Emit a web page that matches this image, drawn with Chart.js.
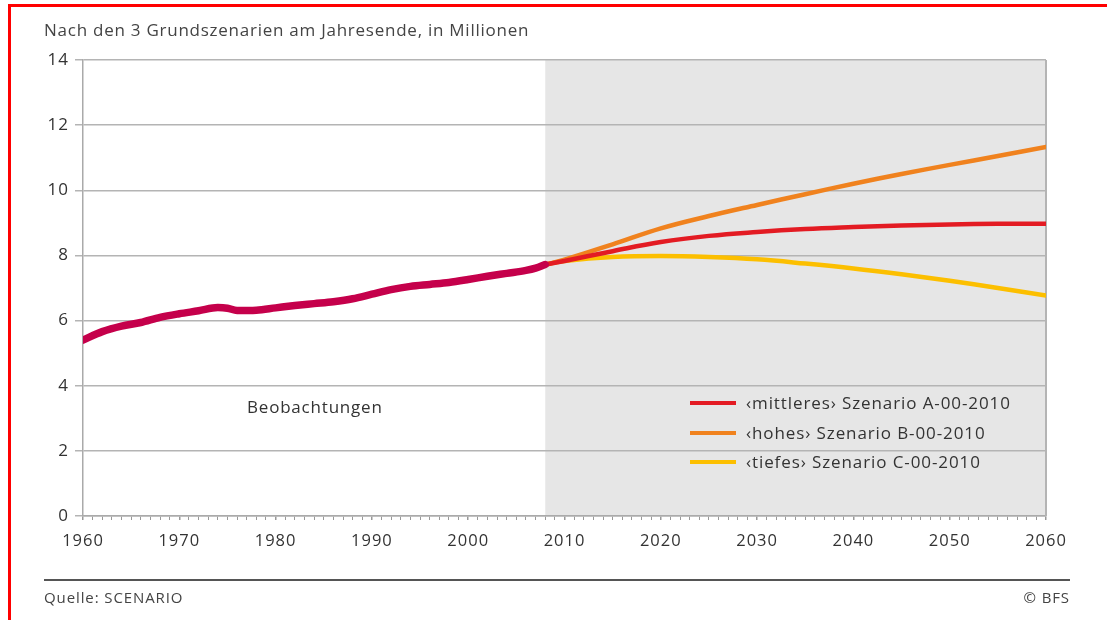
<!DOCTYPE html>
<html>
<head>
<meta charset="utf-8">
<script src="https://cdn.jsdelivr.net/npm/chart.js@4.4.1/dist/chart.umd.min.js"></script>
<style>
  body { margin: 0; background: #fff; font-family: "Open Sans", sans-serif; color: #444; }
  #wrap { position: relative; width: 1107px; height: 621px; overflow: hidden; }
  #frameTop { position: absolute; left: 8px; top: 4px; width: 1099px; height: 3px; background: #f00; }
  #frameLeft { position: absolute; left: 8px; top: 4px; width: 3px; height: 616px; background: #f00; }
  canvas { position: absolute; left: 0; top: 0; }
  .txt { position: absolute; white-space: nowrap; }
  #title { left: 44px; top: 18px; font-size: 17px; letter-spacing: 0.75px; color: #444; }
  #obs { left: 247px; top: 395px; font-size: 17px; letter-spacing: 0.8px; color: #333; }
  #rule { position: absolute; left: 44px; top: 579px; width: 1026px; height: 2px; background: #555; }
  #src { left: 44px; top: 587px; font-size: 15px; letter-spacing: 0.9px; color: #444; }
  #copy { right: 37px; top: 587px; font-size: 15px; letter-spacing: 0.9px; color: #444; }
  .leg { position: absolute; left: 690px; font-size: 17px; letter-spacing: 0.9px; color: #333; white-space: nowrap; }
  .leg span { display: inline-block; width: 46px; height: 4px; margin-right: 10px; vertical-align: middle; position: relative; top: -1px; }
</style>
</head>
<body>
<div id="wrap">
  <canvas id="chart" width="1107" height="621"></canvas>
  <div id="frameTop"></div>
  <div id="frameLeft"></div>
  <div id="title" class="txt">Nach den 3 Grundszenarien am Jahresende, in Millionen</div>
  <div id="obs" class="txt">Beobachtungen</div>
  <div id="legend"></div>
  <div id="rule"></div>
  <div id="src" class="txt">Quelle: SCENARIO</div>
  <div id="copy" class="txt">© BFS</div>
</div>
<script>
// observed population, millions
const histYears = [1960, 1962, 1964, 1966, 1968, 1970, 1972, 1974, 1975, 1976, 1978, 1980, 1982, 1984, 1986,
  1988, 1990, 1992, 1994, 1996, 1998, 2000, 2002, 2004, 2006, 2007, 2008];
const histValues = [5.40, 5.66, 5.83, 5.94, 6.10, 6.21, 6.30, 6.40, 6.38, 6.31, 6.32, 6.39, 6.46, 6.52, 6.58,
  6.67, 6.81, 6.95, 7.05, 7.11, 7.17, 7.26, 7.36, 7.45, 7.54, 7.61, 7.72];

// scenarios
const scenYears = [2008, 2010, 2015, 2020, 2025, 2030, 2035, 2040, 2045, 2050, 2055, 2060];
const scenA = [7.72, 7.83, 8.13, 8.41, 8.60, 8.72, 8.81, 8.87, 8.92, 8.95, 8.97, 8.97];
const scenB = [7.72, 7.87, 8.34, 8.83, 9.21, 9.55, 9.88, 10.20, 10.50, 10.78, 11.05, 11.33];
const scenC = [7.72, 7.83, 7.95, 7.98, 7.95, 7.88, 7.75, 7.60, 7.42, 7.22, 7.00, 6.77];

const scenLabels = ['‹mittleres› Szenario A-00-2010', '‹hohes› Szenario B-00-2010', '‹tiefes› Szenario C-00-2010'];
const scenColors = ['#e31b23', '#f0821e', '#fcbf00'];
const histColor = '#c5004b';

const forecastStart = 2008;
const xTickLabels = [1960, 1970, 1980, 1990, 2000, 2010, 2020, 2030, 2040, 2050, 2060];

function pts(xs, ys) {
  return xs.map((x, i) => ({ x: x, y: ys[i] }));
}

// legend in html
const legendBox = document.getElementById('legend');
scenLabels.forEach((l, i) => {
  const d = document.createElement('div');
  d.className = 'leg';
  d.style.top = (391 + i * 29.5) + 'px';
  d.innerHTML = '<span style="background:' + scenColors[i] + '"></span>' + l;
  legendBox.appendChild(d);
});

const bandPlugin = {
  id: 'band',
  beforeDraw(chart) {
    const { ctx, chartArea: a, scales: { x } } = chart;
    const x0 = x.getPixelForValue(forecastStart);
    ctx.save();
    ctx.fillStyle = '#e6e6e6';
    ctx.fillRect(x0, a.top, a.right - x0, a.bottom - a.top);
    ctx.restore();
    // wider tick text, like the print font
    ctx.letterSpacing = '1px';
  },
  beforeDatasetsDraw(chart) {
    const { ctx, chartArea: a } = chart;
    ctx.save();
    ctx.strokeStyle = '#b4b4b4';
    ctx.lineWidth = 2;
    ctx.beginPath();
    ctx.moveTo(a.right, a.top);
    ctx.lineTo(a.right, a.bottom);
    ctx.stroke();
    ctx.restore();
  }
};

const lineBase = { pointRadius: 0, fill: false, borderCapStyle: 'round' };

new Chart(document.getElementById('chart'), {
  type: 'line',
  data: {
    datasets: [
      Object.assign({ label: 'Beobachtungen', data: pts(histYears, histValues), borderColor: histColor, borderWidth: 7.5, cubicInterpolationMode: 'monotone' }, lineBase),
      Object.assign({ label: scenLabels[0], data: pts(scenYears, scenA), borderColor: scenColors[0], borderWidth: 4.5, tension: 0.4 }, lineBase),
      Object.assign({ label: scenLabels[1], data: pts(scenYears, scenB), borderColor: scenColors[1], borderWidth: 4.5, tension: 0.4 }, lineBase),
      Object.assign({ label: scenLabels[2], data: pts(scenYears, scenC), borderColor: scenColors[2], borderWidth: 4.5, tension: 0.4 }, lineBase)
    ]
  },
  options: {
    responsive: false,
    animation: false,
    layout: { padding: { left: 3, right: 61, top: 60, bottom: 65 } },
    plugins: { legend: { display: false }, tooltip: { enabled: false } },
    scales: {
      x: {
        type: 'linear',
        min: 1960,
        max: 2060,
        afterFit(s) { s.height = 40; },
        ticks: {
          stepSize: 1,
          autoSkip: false,
          maxRotation: 0,
          padding: 11,
          color: '#333',
          font: { family: 'Open Sans', size: 16.5 },
          callback: v => xTickLabels.includes(v) ? String(v) : ''
        },
        grid: { drawOnChartArea: false, tickLength: 4, color: '#999', lineWidth: ctx => (ctx.tick && ctx.tick.value % 10 === 0 ? 1.5 : 1) },
        border: { color: '#aaa', width: 1.5 }
      },
      y: {
        min: 0,
        max: 14,
        afterFit(s) { s.width = 80; },
        ticks: { stepSize: 2, padding: 6, color: '#333', font: { family: 'Open Sans', size: 17 } },
        grid: { color: '#b4b4b4', lineWidth: 1.5, tickLength: 8 },
        border: { color: '#aaa', width: 1.5 }
      }
    }
  },
  plugins: [bandPlugin]
});
</script>
</body>
</html>
